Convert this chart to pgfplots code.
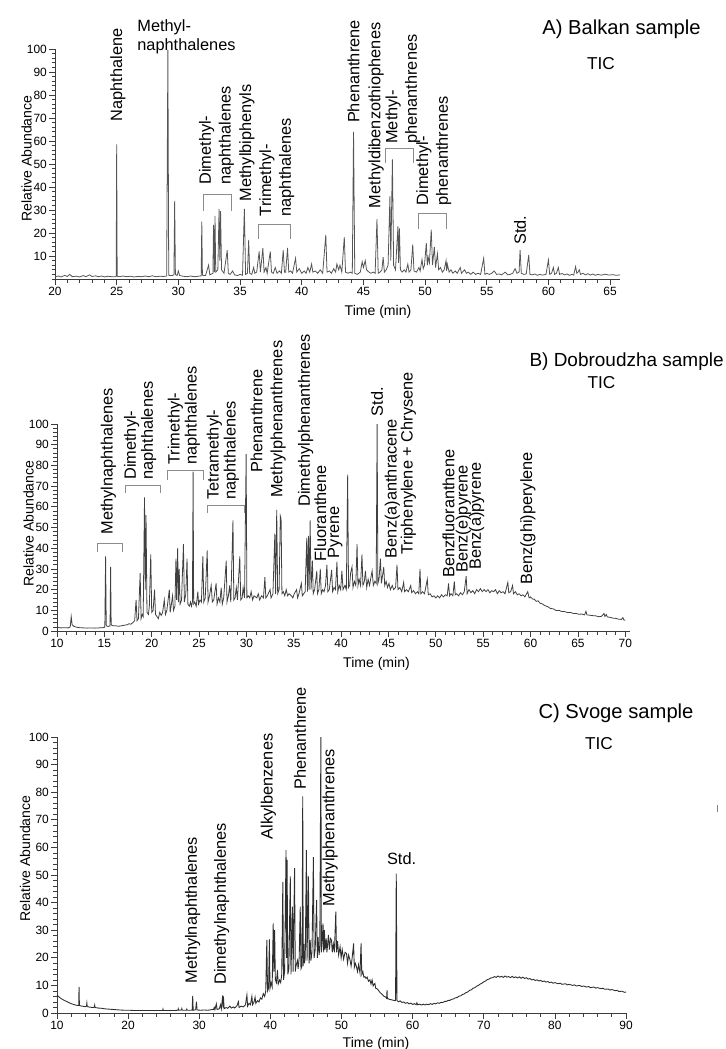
\documentclass[border=0pt]{standalone}
\usepackage{pgfplots}
\pgfplotsset{compat=1.18}
\usepackage{fontspec}
\setmainfont{Liberation Sans}

\definecolor{axc}{HTML}{3C3C3C}
\definecolor{trA}{HTML}{555555}
\definecolor{trB}{HTML}{404040}
\definecolor{trC}{HTML}{2E2E2E}
\definecolor{brk}{HTML}{8C8C8C}

\newcommand\tkf{\fontsize{6.8}{8}\selectfont}
\newcommand\lab{\fontsize{9.3}{11.2}\selectfont}
\newcommand\labt{\fontsize{9.3}{7.4}\selectfont}
\newcommand\axl{\fontsize{8}{9.6}\selectfont}
\newcommand\ttl{\fontsize{11.5}{13}\selectfont}
\newcommand\ttlb{\fontsize{10.8}{13}\selectfont}
\newcommand\tic{\fontsize{9.8}{11}\selectfont}

\pgfplotsset{
  chrom/.style={
    scale only axis, anchor=south west,
    axis lines=left, axis line style={-, line width=0.5pt, color=axc},
    ymin=0, ymax=100,
    tick align=outside, major tick length=0.12cm, minor tick length=0.07cm,
    tick style={color=axc, line width=0.4pt},
    tick label style={font=\tkf, inner sep=1pt},
    /pgf/number format/assume math mode=true,
    clip=false, no markers,
  },
}
\tikzset{
  rl/.style={rotate=90, anchor=west, inner sep=0pt, font=\lab},
  rl2/.style={rl, align=left},
  rlt/.style={rotate=90, anchor=west, inner sep=0pt, font=\labt, align=left},
  bk/.style={color=brk, line width=0.5pt},
}

\begin{document}
\begin{tikzpicture}
\path[use as bounding box] (0,0) rectangle (14.52,-20.98);

% ---------------- A) Balkan
\begin{axis}[chrom, at={(1.10cm,-5.58cm)}, width=11.3cm, height=4.6cm,
  xmin=20, xmax=65.8, xtick={20,25,...,65}, minor xtick={20,...,65},
  ytick={10,20,...,100}, minor ytick={0,2,...,100}]
\addplot[trA, line width=0.45pt] coordinates {
(20,1.0)(20.3,1.3)(20.5,0.9)(20.8,1.6)(21.0,1.1)(21.2,2.0)(21.4,1.0)(21.7,1.2)(22.0,0.9)(22.3,1.5)
(22.5,1.0)(22.8,1.8)(23.0,1.1)(23.3,1.4)(23.5,1.0)(23.8,1.3)(24.0,0.9)(24.3,1.2)(24.6,1.0)(24.9,1.0)
(24.96,1.2)(25.0,58.5)(25.04,1.2)(25.2,1.0)(25.5,1.3)(25.8,1.0)(26.1,1.2)(26.4,0.9)(26.7,1.1)(27.0,1.0)
(27.3,1.3)(27.6,1.0)(27.9,1.4)(28.2,1.0)(28.5,1.2)(28.8,1.1)(29.05,1.3)(29.15,99.6)(29.22,1.6)(29.5,1.5)
(29.64,1.8)(29.7,34)(29.76,2)(29.9,1.5)(30.0,3.5)(30.1,1.5)(30.4,1.2)(30.7,1.0)(31.0,1.3)(31.3,1.0)
(31.6,1.2)(31.85,1.4)(31.9,25)(31.95,1.6)(32.2,1.5)(32.45,6)(32.55,1.8)(32.8,2.5)(32.85,23.5)(32.92,3)
(32.97,27.5)(33.03,3)(33.2,4)(33.3,30.5)(33.36,8)(33.42,29.5)(33.5,4)(33.7,2.5)(33.96,12.5)(34.05,2.5)
(34.2,2.0)(34.4,3.5)(34.55,1.8)(34.8,1.5)(35.0,2.0)(35.2,1.6)(35.35,30.5)(35.45,2.0)(35.6,2.5)(35.7,17)
(35.78,2.5)(35.95,2.0)(36.1,5)(36.2,2.5)(36.35,3.0)(36.55,12)(36.65,3.0)(36.85,13.4)(36.95,3.0)(37.1,5)
(37.2,2.5)(37.45,12)(37.55,3)(37.7,2.5)(37.85,5)(38.0,2.5)(38.2,3.5)(38.35,2.5)(38.5,12.5)(38.6,3)
(38.7,3)(38.85,13.5)(38.95,3)(39.1,3.5)(39.25,2.5)(39.5,9)(39.6,3)(39.8,4.5)(40.0,2.5)(40.2,3.5)
(40.35,2.5)(40.5,5)(40.65,3)(40.8,6.5)(40.9,3)(41.1,3.5)(41.3,2.5)(41.5,4)(41.7,2.5)(41.95,19.2)
(42.05,3)(42.25,3.5)(42.4,2.5)(42.6,4.5)(42.75,3)(42.85,6.5)(43.0,4)(43.1,6)(43.25,3)(43.45,18.2)
(43.55,3)(43.75,2.5)(43.95,3)(44.1,2.5)(44.2,64)(44.3,2.5)(44.5,2.0)(44.75,3)(44.9,7.5)(45.0,5)
(45.15,8)(45.25,4)(45.45,3)(45.6,2.5)(45.8,3)(45.95,2.5)(46.1,26)(46.2,2.5)(46.35,3)(46.5,4)
(46.6,9.5)(46.7,3)(46.85,4)(47.0,6)(47.15,36)(47.22,8)(47.35,52)(47.45,6)(47.6,4)(47.8,23)
(47.85,7)(47.92,22)(48.0,4)(48.15,3)(48.3,4)(48.45,3)(48.6,6.5)(48.7,3)(48.85,4)(49.0,15)
(49.1,3.5)(49.3,3)(49.5,5)(49.6,3.5)(49.75,8.5)(49.85,4.5)(49.95,6)(50.1,15.6)(50.18,6)(50.25,9.5)
(50.35,7)(50.5,21.5)(50.6,6)(50.75,14)(50.85,5)(51.0,11)(51.1,4)(51.25,5)(51.4,3)(51.55,4)
(51.7,8)(51.75,3.5)(51.8,6.5)(51.95,3)(52.1,4)(52.25,2.5)(52.45,3.5)(52.6,2.5)(52.85,5)(52.95,2.5)
(53.2,4)(53.35,2.5)(53.5,3)(53.7,2)(53.9,3)(54.1,2.0)(54.3,2.5)(54.5,2)(54.75,9)(54.85,2)
(55.0,2.5)(55.2,2.0)(55.4,2.5)(55.6,3.5)(55.8,2)(56.0,2.2)(56.2,1.8)(56.5,3)(56.7,1.8)(56.9,2.0)
(57.1,2.5)(57.3,4.5)(57.45,2.5)(57.62,3)(57.7,12.7)(57.8,2.5)(58.0,2.0)(58.2,2.2)(58.4,10.5)(58.5,2)
(58.7,1.8)(58.9,2.2)(59.1,1.6)(59.3,2.0)(59.5,1.7)(59.8,2.0)(60.0,8.3)(60.1,2)(60.25,2.5)(60.4,5)
(60.5,2)(60.65,2.5)(60.8,5)(60.9,2)(61.1,2.4)(61.3,1.8)(61.5,2.2)(61.7,1.6)(61.9,2.0)(62.05,1.7)
(62.2,5.4)(62.3,2.5)(62.4,3)(62.5,4)(62.6,2)(62.8,2.5)(63.0,1.8)(63.2,2.3)(63.4,1.7)(63.6,2.2)
(63.8,1.6)(64.0,2.0)(64.3,1.7)(64.6,2.1)(64.9,1.7)(65.2,1.9)(65.5,1.6)(65.8,1.8)
};
\node[rl] at (axis cs:25.1,68.4) {Naphthalene};
\node[anchor=north west, inner sep=0pt, font=\lab, align=left] at (axis cs:26.65,113) {Methyl-\\naphthalenes};
\node[rl2] at (axis cs:33.1,40.9) {Dimethyl-\\naphthalenes};
\draw[bk] (axis cs:32.03,29.7) -- (axis cs:32.03,36.8) -- (axis cs:34.28,36.8) -- (axis cs:34.28,29.7);
\node[rl] at (axis cs:35.55,33.6) {Methylbiphenyls};
\node[rl2] at (axis cs:37.98,27.1) {Trimethyl-\\naphthalenes};
\draw[bk] (axis cs:36.49,17.3) -- (axis cs:36.49,23.9) -- (axis cs:39.1,23.9) -- (axis cs:39.1,17.3);
\node[rl] at (axis cs:44.2,67.7) {Phenanthrene};
\node[rl] at (axis cs:46.03,30.7) {Methyldibenzothiophenes};
\node[rl2] at (axis cs:48.2,58.7) {Methyl-\\phenanthrenes};
\draw[bk] (axis cs:46.82,50.3) -- (axis cs:46.82,56.8) -- (axis cs:49.06,56.8) -- (axis cs:49.06,50.3);
\node[rl2] at (axis cs:50.7,31.9) {Dimethyl-\\phenanthrenes};
\draw[bk] (axis cs:49.47,21.6) -- (axis cs:49.47,28.6) -- (axis cs:51.71,28.6) -- (axis cs:51.71,21.6);
\node[rl] at (axis cs:57.7,14.8) {Std.};
\end{axis}

% ---------------- B) Dobroudzha
\begin{axis}[chrom, at={(1.14cm,-12.62cm)}, width=11.46cm, height=4.14cm,
  xmin=10, xmax=70.5, xtick={10,15,...,70}, minor xtick={10,...,70},
  ytick={0,10,...,100}, minor ytick={0,2,...,100}]
\addplot[trB, line width=0.45pt] coordinates {
(10,1.8)(10.4,1.5)(10.8,1.6)(11.2,1.5)(11.4,2)(11.5,7)(11.6,3)(11.8,2.2)(12.1,1.8)(12.4,1.6)
(12.8,1.5)(13.2,1.4)(13.6,1.5)(14.0,1.4)(14.4,1.5)(14.8,1.6)(15.05,1.8)(15.13,36)(15.2,2.5)(15.4,2.2)
(15.6,2.5)(15.66,31)(15.72,3)(15.9,2.5)(16.2,2.5)(16.5,2.3)(16.8,2.5)(17.1,2.8)(17.4,3.0)(17.6,3.5)
(17.8,3.3)(18.0,4)(18.2,5)(18.35,15)(18.45,5)(18.6,6)(18.78,28)(18.88,6)(19.0,8)(19.1,7)
(19.24,64.5)(19.32,20)(19.4,56)(19.5,9)(19.65,8)(19.75,12)(19.9,37)(20.0,9)(20.15,10)(20.3,20)
(20.4,8)(20.55,7)(20.7,6)(20.85,9)(21.0,7.5)(21.15,9)(21.33,15)(21.45,8)(21.6,10)(21.86,20)
(21.95,9)(22.05,12)(22.2,17)(22.3,10)(22.45,12)(22.56,35)(22.63,15)(22.74,40)(22.82,14)(22.9,30)
(23.0,13)(23.15,15)(23.35,42)(23.45,14)(23.6,18)(23.73,35)(23.82,13)(23.98,12)(24.1,14)(24.2,12)
(24.3,14)(24.37,77)(24.43,13)(24.55,14)(24.7,12)(24.87,19)(24.95,13)(25.1,15)(25.25,14)(25.4,36)
(25.5,14)(25.65,16)(25.86,39)(25.95,14)(26.1,17)(26.28,22)(26.4,14)(26.55,15)(26.8,23)(26.9,13)
(27.05,16)(27.2,14)(27.34,21)(27.45,13)(27.6,16)(27.87,34)(27.95,14)(28.1,17)(28.23,22)(28.35,14)
(28.58,53.5)(28.67,15)(28.8,16)(28.93,21)(29.05,15)(29.3,36)(29.4,15)(29.55,16)(29.65,21)(29.8,16)
(29.97,85.5)(30.05,16)(30.2,17)(30.35,16)(30.5,19)(30.65,15)(30.8,17)(31.1,16)(31.25,18)(31.4,15)
(31.6,17)(31.8,16)(31.95,26)(32.05,16)(32.2,17)(32.5,20)(32.6,16)(32.8,18)(33.0,47)(33.08,18)
(33.2,58.5)(33.3,18)(33.45,20)(33.58,55.5)(33.66,54)(33.75,18)(33.9,19)(34.05,17)(34.2,20)(34.35,17)
(34.5,18)(34.75,17)(34.9,16)(35.05,18)(35.3,20)(35.4,16)(35.55,18)(35.8,23)(35.9,17)(36.05,18)
(36.2,19)(36.37,45)(36.45,19)(36.55,46)(36.62,20)(36.73,53.5)(36.82,20)(36.97,34)(37.05,18)(37.2,20)
(37.43,29)(37.5,18)(37.65,20)(37.8,30)(37.9,18)(38.05,20)(38.2,19)(38.35,22)(38.5,32)(38.6,19)
(38.75,20)(39.0,29.5)(39.1,19)(39.25,21)(39.4,20)(39.56,33.5)(39.65,19)(39.8,22)(39.95,20)(40.08,29)
(40.2,20)(40.4,22)(40.55,20)(40.69,75.5)(40.78,21)(40.9,22)(41.0,28)(41.15,31)(41.25,21)(41.4,24)
(41.55,22)(41.68,42)(41.78,22)(41.9,25)(42.05,22)(42.2,37)(42.3,22)(42.45,24)(42.57,29)(42.7,21)
(42.85,25)(43.0,22)(43.15,26)(43.27,29)(43.4,22)(43.55,24)(43.7,23)(43.8,100)(43.88,23)(44.0,25)
(44.15,35)(44.25,23)(44.35,26)(44.5,31)(44.6,22)(44.75,24)(44.9,21)(45.05,23)(45.2,20)(45.4,22)
(45.55,20)(45.75,21)(45.9,32)(46.0,20)(46.2,21)(46.4,19)(46.6,23.5)(46.7,19)(46.9,20)(47.1,19)
(47.35,22)(47.45,18.5)(47.65,19.5)(47.85,18)(48.05,19)(48.2,18)(48.33,30)(48.42,18)(48.6,19)(48.8,18)
(49.1,25)(49.2,17.5)(49.4,18)(49.6,16.5)(49.8,17)(50.0,16)(50.2,17)(50.4,16)(50.6,17.5)(50.8,16.5)
(51.0,17.5)(51.2,17)(51.34,23)(51.45,17)(51.6,18)(51.8,17)(51.95,24)(52.05,17.5)(52.2,18)(52.4,17)
(52.6,18.5)(52.8,17.5)(53.0,19)(53.2,26.5)(53.3,18)(53.5,20)(53.7,18.5)(53.9,19.5)(54.1,18)(54.3,20)
(54.5,19)(54.7,20.5)(54.9,19)(55.1,20)(55.3,19)(55.5,20)(55.7,18.5)(55.9,19.5)(56.1,19)(56.3,20)
(56.5,18)(56.7,19.5)(56.9,18.5)(57.1,19)(57.3,18)(57.6,23.5)(57.7,18.5)(57.9,19)(58.1,22)(58.2,18)
(58.4,19)(58.6,17.5)(58.8,18)(59.0,17)(59.2,17.5)(59.4,16.5)(59.7,19)(59.85,16)(60.0,16.5)(60.2,15.5)
(60.4,15.3)(60.6,14.3)(60.8,14.6)(61.0,13.4)(61.2,13.2)(61.5,12.3)(61.8,11.8)(62.1,10.9)(62.4,10.7)(62.7,9.9)
(63.0,10.0)(63.3,9.4)(63.6,9.4)(63.9,8.9)(64.2,9.0)(64.5,8.5)(64.8,8.5)(65.1,8.1)(65.4,8.2)(65.7,7.8)
(65.85,9.5)(65.95,7.8)(66.3,7.6)(66.6,7.4)(66.9,7.3)(67.2,6.9)(67.5,7.1)(67.75,8.5)(67.85,7)(68.0,8)
(68.1,6.8)(68.4,6.6)(68.7,6.2)(69.0,6.1)(69.3,5.7)(69.6,5.6)(69.75,6.5)(69.85,5.3)(70.0,5.2)
};
\node[rl] at (axis cs:15.42,46.4) {Methylnaphthalenes};
\draw[bk] (axis cs:14.25,38.3) -- (axis cs:14.25,42.4) -- (axis cs:16.9,42.4) -- (axis cs:16.9,38.3);
\node[rlt] at (axis cs:18.78,72.9) {Dimethyl-\\naphthalenes};
\draw[bk] (axis cs:17.19,66.5) -- (axis cs:17.19,70.5) -- (axis cs:20.97,70.5) -- (axis cs:20.97,66.5);
\node[rlt] at (axis cs:23.41,80.2) {Trimethyl-\\naphthalenes};
\draw[bk] (axis cs:21.68,72.9) -- (axis cs:21.68,77.4) -- (axis cs:25.5,77.4) -- (axis cs:25.5,72.9);
\node[rlt] at (axis cs:27.52,63.3) {Tetramethyl-\\naphthalenes};
\draw[bk] (axis cs:25.93,56.9) -- (axis cs:25.93,60.5) -- (axis cs:29.75,60.5) -- (axis cs:29.75,56.9);
\node[rl] at (axis cs:31.06,76.5) {Phenanthrene};
\node[rl] at (axis cs:33.36,64.1) {Methylphenanthrenes};
\node[rl] at (axis cs:36.26,60.0) {Dimethylphenanthrenes};
\node[rl] at (axis cs:37.79,33.5) {Fluoranthene};
\node[rl] at (axis cs:39.38,35.1) {Pyrene};
\node[rl] at (axis cs:43.8,103.5) {Std.};
\node[rl] at (axis cs:45.4,35.1) {Benz(a)anthracene};
\node[rl] at (axis cs:47.1,36.7) {Triphenylene + Chrysene};
\node[rl] at (axis cs:51.34,25.5) {Benzfluoranthene};
\node[rl] at (axis cs:52.9,28.2) {Benz(e)pyrene};
\node[rl] at (axis cs:54.31,29.5) {Benz(a)pyrene};
\node[rl] at (axis cs:59.73,22.2) {Benz(ghi)perylene};
\end{axis}

% ---------------- C) Svoge
\begin{axis}[chrom, at={(1.14cm,-20.26cm)}, width=11.38cm, height=5.52cm,
  xmin=10, xmax=90, xtick={10,20,...,90}, minor xtick={10,12,...,90},
  ytick={0,10,...,100}, minor ytick={0,2,...,100}]
\addplot[trC, line width=0.5pt] coordinates {
(10,6.5)(10.3,5.8)(10.6,5.2)(11.0,4.6)(11.4,4.1)(11.8,3.6)(12.2,3.2)(12.6,2.9)(13.0,2.7)(13.05,2.8)
(13.1,9.5)(13.15,2.7)(13.5,2.5)(14.0,2.3)(14.15,2.5)(14.2,3.6)(14.25,2.3)(14.7,2.1)(15.0,2.0)(15.25,2.1)
(15.3,2.8)(15.35,2.0)(15.8,1.8)(16.3,1.7)(16.8,1.5)(17.3,1.4)(17.8,1.3)(18.3,1.2)(18.8,1.1)(19.5,1.0)
(20.2,1.0)(21,0.9)(22,0.9)(23,0.9)(24,0.9)(24.85,0.9)(24.9,1.4)(24.95,0.9)(25.5,0.9)(26.5,0.9)
(27.0,1.0)(27.05,1.5)(27.1,1.0)(27.5,1.1)(27.55,1.6)(27.6,1.0)(28.2,1.0)(28.25,1.4)(28.3,1.0)(29.0,1.0)
(29.08,6.2)(29.15,1.0)(29.5,1.2)(29.6,4.1)(29.7,1.1)(30.2,1.0)(30.7,1.1)(31.2,1.0)(31.7,1.2)(32.0,1.3)
(32.1,2.0)(32.2,1.2)(32.4,3.3)(32.5,1.3)(32.8,1.5)(33.0,3.0)(33.1,1.5)(33.3,6.4)(33.35,2)(33.4,6.0)
(33.5,1.6)(33.8,2.0)(34.0,1.7)(34.3,2.5)(34.5,1.8)(34.8,2.2)(35.0,1.8)(35.3,2.6)(35.5,4.1)(35.6,2.0)
(35.9,2.5)(36.2,2.2)(36.5,3)(36.7,6.5)(36.8,2.5)(37.0,3.5)(37.2,3.0)(37.4,6.0)(37.5,3.0)(37.7,4)
(37.85,5.7)(37.95,3.5)(38.2,4.5)(38.4,4.0)(38.6,5.5)(38.8,5.0)(39.0,7.0)(39.2,6)(39.35,8)(39.5,26.4)
(39.6,8)(39.75,9)(39.86,26.7)(39.95,9)(40.1,11)(40.25,9.5)(40.4,32.5)(40.5,15)(40.6,30)(40.7,12)
(40.85,11)(41.0,15.6)(41.1,10.5)(41.3,12)(41.45,11)(41.6,14)(41.75,47.5)(41.85,12)(42.0,15)(42.2,59)
(42.28,20)(42.35,55.5)(42.45,14)(42.6,16)(42.8,49.5)(42.9,14)(43.1,38.5)(43.2,15)(43.4,52.5)(43.5,15)
(43.6,17)(43.8,19)(43.9,16)(44.05,20)(44.2,38.5)(44.3,16)(44.45,17)(44.55,78.5)(44.62,17)(44.7,25)
(44.8,18)(44.9,20)(45.07,59)(45.15,19)(45.35,49.5)(45.45,18)(45.6,26.5)(45.7,19)(45.85,22)(46.05,56.5)
(46.15,20)(46.3,23)(46.5,41)(46.6,20)(46.7,27.5)(46.85,21)(46.95,24)(47.1,100)(47.17,22)(47.3,26)
(47.4,32.5)(47.5,22)(47.6,30)(47.7,23)(47.85,27)(47.95,22)(48.16,28.3)(48.3,23)(48.45,27)(48.6,26.4)
(48.7,22)(48.85,25)(49.0,22)(49.2,36.7)(49.3,22)(49.45,26)(49.6,21)(49.8,24)(49.95,20)(50.1,23)
(50.3,19.5)(50.5,22)(50.7,21.6)(50.85,18)(51.0,21)(51.2,19.2)(51.35,17)(51.5,20)(51.7,25.2)(51.8,16.5)
(51.95,18)(52.1,16.8)(52.25,15)(52.4,17.5)(52.6,14.5)(52.75,25.2)(52.85,14)(53.0,15)(53.15,13)(53.3,13.2)
(53.45,12.5)(53.6,13)(53.8,11.5)(54.0,12)(54.15,10.5)(54.3,12)(54.45,9.8)(54.6,10.5)(54.7,10.7)(54.8,9)
(55.0,8.8)(55.2,8.2)(55.4,7.5)(55.6,7.0)(55.8,6.5)(56.0,6.0)(56.2,5.8)(56.35,5.3)(56.4,8.3)(56.45,5.3)
(56.7,5.0)(57.0,4.8)(57.3,4.6)(57.6,4.5)(57.7,50.5)(57.8,4.5)(58.0,4.1)(58.25,4.4)(58.5,3.8)(58.75,4.0)
(59.0,3.5)(59.25,3.8)(59.5,3.3)(59.75,3.6)(60.0,3.1)(60.25,3.4)(60.5,3.0)(60.6,3.7)(60.7,3.0)(61.0,3.2)
(61.25,2.9)(61.5,3.2)(61.75,2.9)(62.0,3.2)(62.25,3.0)(62.5,3.4)(62.75,3.1)(63.0,3.5)(63.25,3.3)(63.5,3.7)
(63.75,3.5)(64.0,3.9)(64.25,3.8)(64.5,4.2)(64.75,4.2)(65.0,4.6)(65.25,4.6)(65.5,5.0)(65.75,5.1)(66.0,5.5)
(66.25,5.6)(66.5,6.1)(66.75,6.2)(67.0,6.7)(67.25,6.9)(67.5,7.4)(67.75,7.6)(68.0,8.2)(68.25,8.4)(68.5,9.0)
(68.75,9.2)(69.0,9.7)(69.25,10.0)(69.5,10.5)(69.75,10.8)(70.0,11.3)(70.25,11.6)(70.5,12.1)(70.75,12.3)(71.0,12.7)
(71.25,12.8)(71.5,13.2)(71.75,12.9)(72.0,13.4)(72.25,13.0)(72.5,13.3)(72.75,12.9)(73.0,13.4)(73.25,13.0)(73.5,13.2)
(73.75,12.8)(74.0,13.3)(74.25,12.8)(74.5,13.1)(74.75,12.7)(75.0,13.1)(75.25,12.6)(75.5,13.0)(75.75,12.5)(76.0,12.8)
(76.25,12.3)(76.5,12.5)(76.75,12.0)(77.0,12.2)(77.25,11.8)(77.5,12.0)(77.75,11.6)(78.0,11.8)(78.25,11.4)(78.5,11.6)
(78.75,11.2)(79.0,11.4)(79.25,11.0)(79.5,11.2)(79.75,10.8)(80.0,11.0)(80.5,10.6)(80.75,10.8)(81.0,10.4)(81.5,10.6)
(81.75,10.2)(82.0,10.4)(82.5,10.0)(82.75,10.2)(83.0,9.8)(83.5,10.0)(83.75,9.6)(84.0,9.8)(84.5,9.4)(84.75,9.6)
(85.0,9.2)(85.5,9.4)(85.75,9.0)(86.0,9.2)(86.5,8.8)(86.75,9.0)(87.0,8.6)(87.5,8.7)(87.75,8.3)(88.0,8.5)
(88.5,8.1)(88.75,8.2)(89.0,7.8)(89.5,7.9)(89.75,7.5)(90.0,7.6)
};
\node[rl] at (axis cs:29.08,10.7) {Methylnaphthalenes};
\node[rl] at (axis cs:33.16,10.1) {Dimethylnaphthalenes};
\node[rl] at (axis cs:39.72,62.9) {Alkylbenzenes};
\node[rl] at (axis cs:44.18,80.8) {Phenanthrene};
\node[rl] at (axis cs:48.4,38.5) {Methylphenanthrenes};
\node[inner sep=0pt, font=\lab] at (axis cs:58.45,56) {Std.};
\end{axis}

% titles and axis labels
\node[font=\ttl] at (12.43,-0.59) {A) Balkan sample};
\node[font=\tic] at (12.02,-1.27) {TIC};
\node[font=\axl, rotate=90] at (0.53,-3.17) {Relative Abundance};
\node[font=\axl] at (7.56,-6.23) {Time (min)};
\node[font=\ttlb, anchor=east, inner sep=0pt] at (14.48,-7.23) {B) Dobroudzha sample};
\node[font=\tic] at (12.03,-7.66) {TIC};
\node[font=\axl, rotate=90] at (0.57,-10.47) {Relative Abundance};
\node[font=\axl] at (7.53,-13.27) {Time (min)};
\node[font=\ttl] at (12.32,-14.27) {C) Svoge sample};
\node[font=\tic] at (11.98,-14.87) {TIC};
\node[font=\axl, rotate=90] at (0.50,-17.17) {Relative Abundance};
\node[font=\axl] at (7.52,-20.87) {Time (min)};
\draw[black!50, line width=0.4pt] (14.35,-16.10) -- (14.35,-16.24);
\end{tikzpicture}
\end{document}
